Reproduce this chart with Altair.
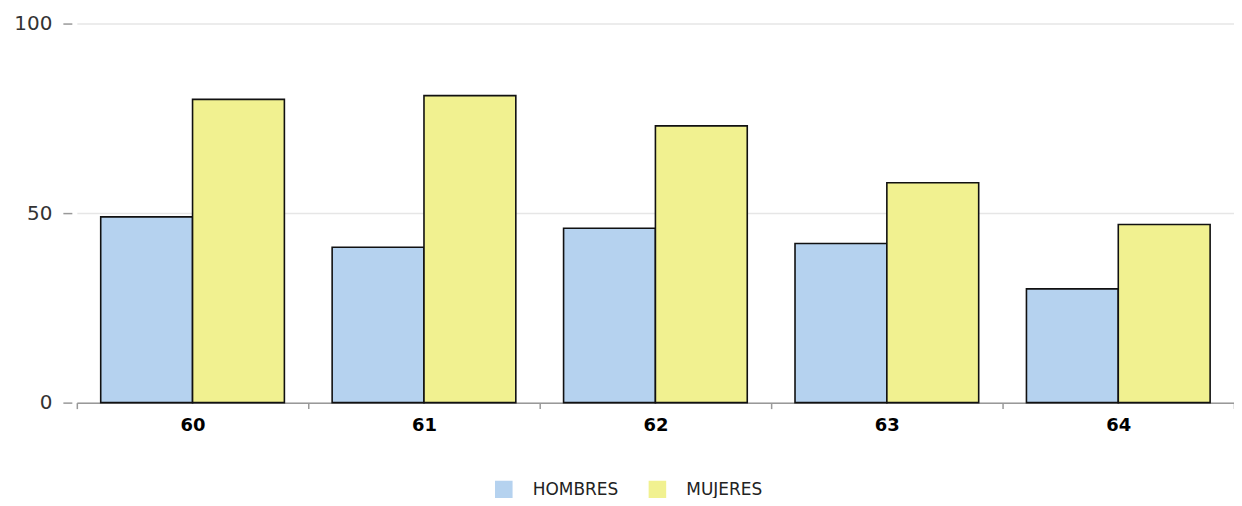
import altair as alt
import pandas as pd

edades = ["60", "61", "62", "63", "64"]
hombres = [49, 41, 46, 42, 30]
mujeres = [80, 81, 73, 58, 47]
series = ["HOMBRES", "MUJERES"]
colores = ["#b5d2ef", "#f1f190"]

rows = []
for i, e in enumerate(edades):
    rows.append({"edad": e, "sexo": series[0], "valor": hombres[i]})
    rows.append({"edad": e, "sexo": series[1], "valor": mujeres[i]})
df = pd.DataFrame(rows)

FONT = "DejaVu Sans"

chart = alt.Chart(df).mark_bar(stroke="#111", strokeWidth=1.6).encode(
    x=alt.X(
        "edad:N",
        sort=edades,
        scale=alt.Scale(paddingInner=0, paddingOuter=0),
        axis=alt.Axis(
            title=None, labelAngle=0, labelFontWeight="bold", labelFontSize=18,
            labelColor="#000", labelFont=FONT, tickBand="extent", tickSize=6,
            tickColor="#999", domainColor="#999", domainWidth=1.5, tickWidth=1.5,
            labelPadding=8, grid=False,
        ),
    ),
    xOffset=alt.XOffset("sexo:N", sort=series,
                        scale=alt.Scale(paddingInner=0, paddingOuter=0.26)),
    y=alt.Y(
        "valor:Q",
        scale=alt.Scale(domain=[0, 100]),
        axis=alt.Axis(
            values=[0, 50, 100], title=None, offset=5, domain=False, tickSize=9,
            tickColor="#999", tickWidth=1.5, labelPadding=11, labelFontSize=20,
            labelColor="#333", labelFont=FONT, gridColor="#e6e6e6", gridWidth=1.5,
        ),
    ),
    color=alt.Color(
        "sexo:N",
        sort=series,
        scale=alt.Scale(domain=series, range=colores),
        legend=alt.Legend(
            title=None, orient="none", legendX=419, legendY=458,
            direction="horizontal", symbolType="square", symbolSize=310,
            symbolStrokeWidth=0, labelFontSize=17, labelFont=FONT,
            labelColor="#222", labelOffset=20, columnPadding=30,
        ),
    ),
).properties(
    width=1160,
    height=380,
    padding={"left": 69, "top": 15, "right": 0, "bottom": 95},
    autosize=alt.AutoSizeParams(type="none"),
).configure_view(stroke=None)

chart.save("out.html", embed_options={"renderer": "svg", "actions": False})
